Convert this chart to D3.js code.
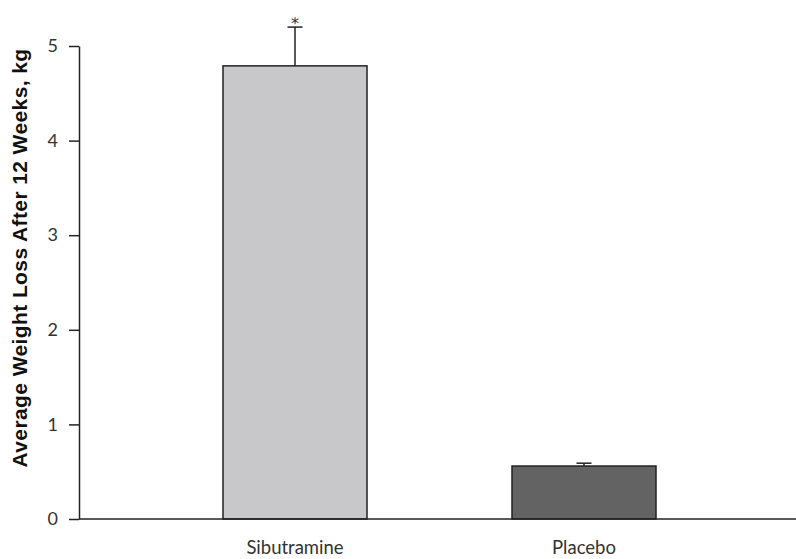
<!DOCTYPE html>
<html>
<head>
<meta charset="utf-8">
<script src="https://cdn.jsdelivr.net/npm/d3@7"></script>
<style>
  body { margin: 0; background: #fff; }
  svg { display: block; }
</style>
</head>
<body>
<script>
// DATA
var groups = ["Sibutramine", "Placebo"];
var means = [4.79, 0.56];
var errors = [0.41, 0.03];
var marks = ["*", ""];
var barColors = ["#c8c8ca", "#636363"];
var yTicks = [0, 1, 2, 3, 4, 5];

var w = 796;
var h = 559;
var mLeft = 79, mBottom = 519, mTop = 46;

var svg = d3.select("body")
    .append("svg")
    .attr("width", w)
    .attr("height", h);

var y = d3.scaleLinear()
    .domain([0, 5])
    .range([mBottom, mTop]);

// bars sit a little left of the axis middle
var x = d3.scaleBand()
    .domain(groups)
    .range([78.5, 800.5])
    .paddingInner(0.5017)
    .paddingOuter(0.5);

// bars
svg.selectAll("rect.bar")
   .data(groups)
   .enter()
   .append("rect")
   .attr("class", "bar")
   .attr("x", function(d) { return x(d); })
   .attr("width", x.bandwidth())
   .attr("y", function(d, i) { return y(means[i]); })
   .attr("height", function(d, i) { return mBottom - y(means[i]); })
   .attr("fill", function(d, i) { return barColors[i]; })
   .attr("stroke", "#222")
   .attr("stroke-width", 1.5);

// error bars (upper only)
var eb = svg.selectAll("g.err")
   .data(groups)
   .enter()
   .append("g")
   .attr("class", "err");

eb.append("line")
  .attr("x1", function(d) { return x(d) + x.bandwidth() / 2; })
  .attr("x2", function(d) { return x(d) + x.bandwidth() / 2; })
  .attr("y1", function(d, i) { return y(means[i]); })
  .attr("y2", function(d, i) { return y(means[i] + errors[i]); })
  .attr("stroke", "#222")
  .attr("stroke-width", 1.5);

eb.append("line")
  .attr("x1", function(d) { return x(d) + x.bandwidth() / 2 - 7.5; })
  .attr("x2", function(d) { return x(d) + x.bandwidth() / 2 + 7.5; })
  .attr("y1", function(d, i) { return y(means[i] + errors[i]); })
  .attr("y2", function(d, i) { return y(means[i] + errors[i]); })
  .attr("stroke", "#222")
  .attr("stroke-width", 1.5);

eb.append("text")
  .attr("x", function(d) { return x(d) + x.bandwidth() / 2; })
  .attr("y", function(d, i) { return y(means[i] + errors[i]) + 2; })
  .attr("text-anchor", "middle")
  .attr("font-family", "'DejaVu Sans', sans-serif")
  .attr("font-size", "16px")
  .attr("fill", "#333")
  .text(function(d, i) { return marks[i]; });

// y axis
var yAxis = d3.axisLeft(y)
    .tickValues(yTicks)
    .tickFormat(d3.format("d"))
    .tickSize(10)
    .tickSizeOuter(0)
    .tickPadding(11);

var gy = svg.append("g")
   .attr("transform", "translate(" + mLeft + ",0)")
   .call(yAxis);
gy.selectAll("path, line").attr("stroke", "#222").attr("stroke-width", 1.5);
gy.selectAll("text")
  .attr("font-family", "Lato, sans-serif")
  .attr("font-size", "18px")
  .attr("fill", "#333");

// x axis baseline
svg.append("line")
   .attr("x1", mLeft)
   .attr("x2", w)
   .attr("y1", mBottom)
   .attr("y2", mBottom)
   .attr("stroke", "#222")
   .attr("stroke-width", 1.5);

// category labels
svg.selectAll("text.cat")
   .data(groups)
   .enter()
   .append("text")
   .attr("class", "cat")
   .attr("x", function(d) { return x(d) + x.bandwidth() / 2; })
   .attr("y", 554)
   .attr("text-anchor", "middle")
   .attr("font-family", "Lato, sans-serif")
   .attr("font-size", "18.5px")
   .attr("fill", "#333")
   .text(function(d) { return d; });

// y title
svg.append("text")
   .attr("transform", "translate(27,258) rotate(-90)")
   .attr("text-anchor", "middle")
   .attr("font-family", "'Liberation Sans', Arial, sans-serif")
   .attr("font-weight", "bold")
   .attr("font-size", "21px")
   .attr("letter-spacing", "0.4px")
   .attr("fill", "#111")
   .text("Average Weight Loss After 12 Weeks, kg");
</script>
</body>
</html>
